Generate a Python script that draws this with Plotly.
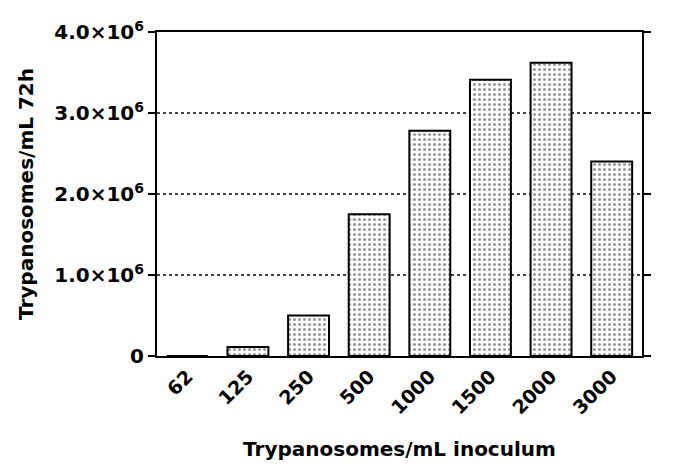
import plotly.graph_objects as go

categories = ["62", "125", "250", "500", "1000", "1500", "2000", "3000"]
values = [0.0, 0.11e6, 0.50e6, 1.75e6, 2.78e6, 3.41e6, 3.62e6, 2.40e6]
ytick_vals = [0, 1e6, 2e6, 3e6, 4e6]
ytick_text = ["0", "1.0×10<sup>6</sup>", "2.0×10<sup>6</sup>", "3.0×10<sup>6</sup>", "4.0×10<sup>6</sup>"]

font_family = "DejaVu Sans, sans-serif"

fig = go.Figure(
    go.Bar(
        x=categories,
        y=values,
        marker=dict(
            color="white",
            line=dict(color="black", width=2),
            pattern=dict(shape=".", fgcolor="#333", bgcolor="white", size=5, solidity=0.3),
        ),
    )
)

fig.update_layout(
    width=685,
    height=476,
    margin=dict(l=149, r=51, t=24, b=128),
    plot_bgcolor="white",
    paper_bgcolor="white",
    bargap=0.325,
    showlegend=False,
    font=dict(family=font_family, color="black"),
)

fig.update_xaxes(
    type="category",
    range=[-0.5, 7.5],
    automargin=False,
    showline=True,
    linecolor="black",
    linewidth=2,
    mirror=True,
    ticks="",
    tickangle=-45,
    tickfont=dict(size=19, weight="bold", family=font_family),
    title=dict(text="Trypanosomes/mL inoculum", font=dict(size=20, weight="bold", family=font_family), standoff=25),
    showgrid=False,
)

fig.update_yaxes(
    range=[0, 4e6],
    automargin=False,
    tickvals=ytick_vals,
    ticktext=ytick_text,
    showline=True,
    linecolor="black",
    linewidth=2,
    mirror="allticks",
    ticks="outside",
    ticklen=7,
    tickwidth=2,
    tickcolor="black",
    tickfont=dict(size=20, weight="bold", family=font_family),
    title=dict(text="Trypanosomes/mL 72h", font=dict(size=20, weight="bold", family=font_family), standoff=15),
    showgrid=True,
    gridcolor="#444",
    griddash="dot",
    gridwidth=1.5,
    zeroline=False,
)

fig.write_html("out.html")
